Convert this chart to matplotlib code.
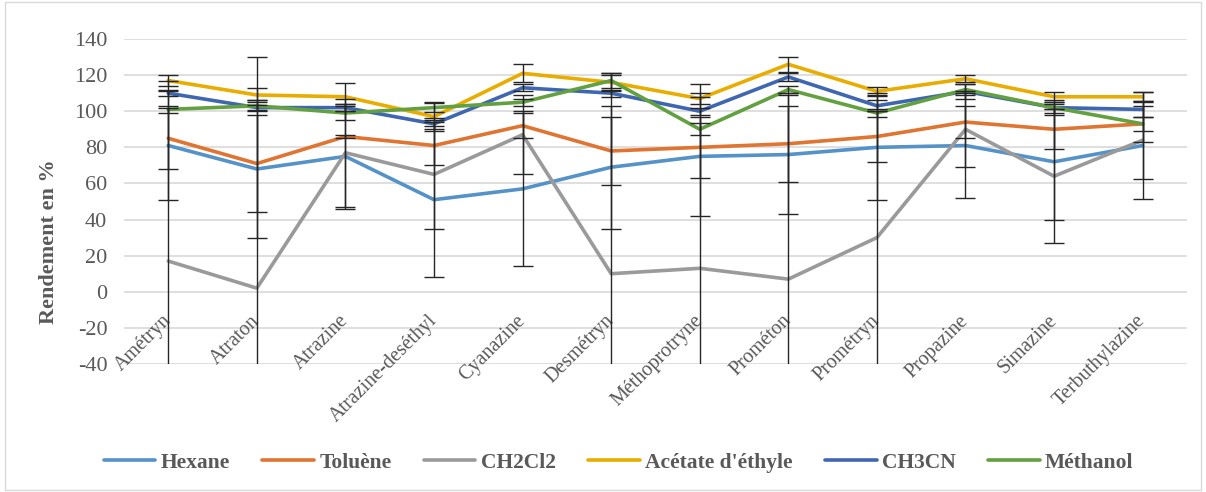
import numpy as np
import matplotlib.pyplot as plt
from matplotlib.patches import Rectangle

# category labels
molecules = ["Amétryn", "Atraton", "Atrazine", "Atrazine-deséthyl", "Cyanazine",
             "Desmétryn", "Méthoprotryne", "Prométon", "Prométryn", "Propazine",
             "Simazine", "Terbuthylazine"]

# yields (%) per solvent
hexane = [81, 68, 75, 51, 57, 69, 75, 76, 80, 81, 72, 81]
toluene = [85, 71, 86, 81, 92, 78, 80, 82, 86, 94, 90, 93]
ch2cl2 = [17, 2, 77, 65, 87, 10, 13, 7, 30, 90, 64, 84]
acetate = [117, 109, 108, 97, 121, 116, 107, 126, 111, 118, 108, 108]
ch3cn = [110, 102, 102, 93, 113, 110, 100, 119, 103, 111, 102, 101]
methanol = [101, 103, 99, 102, 105, 117, 90, 112, 99, 112, 102, 93]

# error bars (±)
err_hexane = [30, 38, 29, 43, 43, 34, 33, 33, 29, 29, 32, 29.5]
err_toluene = [17, 27, 1, 11, 7, 19, 17, 21, 14, 9, 11, 4]
err_ch2cl2 = [100, 128, 30, 30, 22, 110, 102, 103, 80, 21, 37, 21.5]
err_acetate = [3, 4, 7.6, 8, 5, 5, 3, 4, 2.5, 2, 2.7, 2.5]
err_ch3cn = [1.5, 1.5, 2, 3, 2, 2, 2, 2, 3, 4, 4, 4]
err_methanol = [2, 3, 4, 2.5, 2, 4, 3.4, 2, 2, 3, 3, 10]

names = ["Hexane", "Toluène", "CH2Cl2", "Acétate d'éthyle", "CH3CN", "Méthanol"]
series = [hexane, toluene, ch2cl2, acetate, ch3cn, methanol]
errors = [err_hexane, err_toluene, err_ch2cl2, err_acetate, err_ch3cn, err_methanol]
COLOR = ["#5592C8", "#E07431", "#9A9A9A", "#E8AD00", "#3F66B0", "#62A040"]

plt.rcParams['font.family'] = ['Liberation Serif', 'DejaVu Serif']
plt.rcParams['axes.unicode_minus'] = False
TXT = "#595959"

fig = plt.figure(figsize=(12.06, 4.92), dpi=100)
ax = fig.add_axes([0.1028, 0.2602, 0.8814, 0.6605])
fig.patches.append(Rectangle((0.004, 0.004), 0.992, 0.992, transform=fig.transFigure,
                             fill=False, edgecolor="#D9D9D9", linewidth=1))

x = np.arange(len(molecules))
for i in range(len(series)):
    ax.plot(x, series[i], color=COLOR[i], linewidth=2.6, label=names[i], zorder=3,
            solid_joinstyle="round", solid_capstyle="round")
for i in range(len(series)):
    ax.errorbar(x, series[i], yerr=errors[i], fmt="none", ecolor="#262626",
                elinewidth=1, capsize=7, capthick=1, zorder=4)

ax.set_xlim(-0.5, len(molecules) - 0.5)
ax.set_ylim(-40, 140)
ax.set_yticks(range(-40, 141, 20))
ax.yaxis.grid(True, color="#D9D9D9", linewidth=1.2)
ax.set_axisbelow(True)
for s in ax.spines.values():
    s.set_visible(False)
ax.tick_params(axis="y", length=0, labelsize=16, labelcolor=TXT, pad=12)
ax.set_xticks([])

for xi, lab in zip(x, molecules):
    ax.annotate(lab, xy=(xi, 0), xytext=(0, -19), textcoords="offset points",
                rotation=45, ha="right", va="center", rotation_mode="anchor",
                fontsize=14.5, color=TXT)

ax.set_ylabel("Rendement en %", fontsize=16, fontweight="bold", color=TXT)
ax.yaxis.set_label_coords(-0.061, 0.375)

leg = fig.legend(loc="center", bbox_to_anchor=(0.513, 0.06), ncol=6, frameon=False,
                 prop={"weight": "bold", "size": 15.5}, handlelength=2.4, handletextpad=0.25,
                 columnspacing=1.5)
for t in leg.get_texts():
    t.set_color(TXT)

plt.savefig("out.png", dpi=100)
